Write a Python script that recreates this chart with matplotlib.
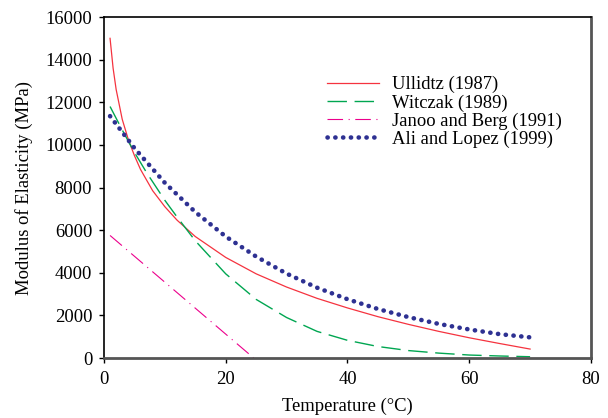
import matplotlib
matplotlib.use("Agg")
import matplotlib.pyplot as plt

plt.rcParams['font.family'] = ['Liberation Serif', 'DejaVu Serif']

# values
t_ullidtz = [1, 1.5, 2, 3, 4, 5, 6, 8, 10, 12, 15, 20, 25, 30, 35, 40, 45, 50, 55, 60, 65, 70]
e_ullidtz = [15000, 13600, 12600, 11200, 10250, 9500, 8850, 7850, 7100, 6470, 5700, 4720,
             3950, 3330, 2800, 2350, 1940, 1580, 1250, 950, 680, 420]

t_witczak = [1, 2, 3, 5, 7, 10, 12, 15, 20, 25, 30, 35, 40, 45, 50, 55, 60, 65, 70]
e_witczak = [11800, 11250, 10700, 9650, 8700, 7400, 6620, 5500, 3950, 2750, 1900, 1250,
             830, 540, 350, 230, 140, 95, 60]

t_janoo = [1, 24.6]
e_janoo = [5750, 0]

t_ali = [1, 3, 5, 10, 15, 20, 25, 30, 35, 40, 45, 50, 55, 60, 65, 70]
e_ali = [11350, 10600, 9850, 8220, 6850, 5700, 4760, 3960, 3300, 2760, 2300, 1920,
         1600, 1340, 1120, 970]

fig = plt.figure(figsize=(6.08, 4.18), dpi=100)
ax = fig.add_axes([0.171, 0.1435, 0.801, 0.8158])

ax.plot(t_ullidtz, e_ullidtz, color='#F5333F', lw=0.9, label='Ullidtz (1987)')
ax.plot(t_witczak, e_witczak, color='#00A651', lw=1.0, dashes=(14, 5.5),
        label='Witczak (1989)')
ax.plot(t_janoo, e_janoo, color='#EC008C', lw=0.8, dashes=(14, 5, 1, 5),
        label='Janoo and Berg (1991)')
ax.plot(t_ali, e_ali, color='#2E3192', lw=3.3, dashes=(0.05, 1.65),
        dash_capstyle='round', label='Ali and Lopez (1999)')

ax.set_xlim(0, 80)
ax.set_ylim(0, 16000)
ax.set_xticks([0, 20, 40, 60, 80])
ax.set_yticks(range(0, 16001, 2000))
ax.tick_params(direction='out', length=3.5, width=1, labelsize=13.4, pad=5, colors='black')
ax.tick_params(axis='x', pad=6)

ax.spines['left'].set_linewidth(1.2)
ax.spines['top'].set_linewidth(1.2)
ax.spines['bottom'].set_color('#555555')
ax.spines['bottom'].set_linewidth(2)
ax.spines['right'].set_color('#555555')
ax.spines['right'].set_linewidth(2)

ax.set_xlabel('Temperature (°C)', fontsize=13.4, labelpad=7)
ax.set_ylabel('Modulus of Elasticity (MPa)', fontsize=13.4, labelpad=9)

ax.legend(loc='upper left', bbox_to_anchor=(0.458, 0.827), frameon=False, fontsize=13.4,
          handlelength=2.8, handletextpad=0.7, labelspacing=0.05,
          borderpad=0, borderaxespad=0)

fig.savefig('out.png', dpi=100)
